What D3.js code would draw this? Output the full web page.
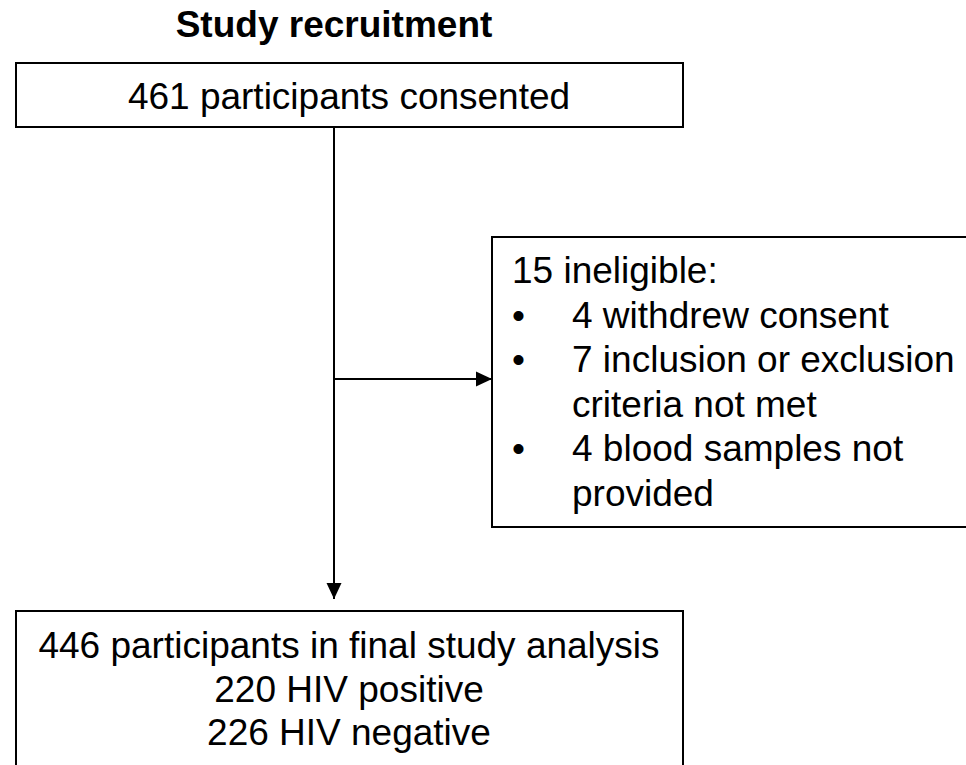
<!DOCTYPE html>
<meta charset="utf-8">
<style>
body { margin: 0; background: #fff; }
text { font-family: "Liberation Sans", Arial, sans-serif; fill: #000; }
.box { fill: none; stroke: #000; stroke-width: 2px; }
.link { stroke: #000; stroke-width: 2px; fill: none; }
</style>
<body>
<script src="https://cdn.jsdelivr.net/npm/d3@7"></script>
<script>

var width = 966;
var height = 765;

// text content of the flow chart
var title = "Study recruitment";
var consentedLines = ["461 participants consented"];
var ineligibleHead = ["15 ineligible:"];
var ineligibleItems = [
  ["4 withdrew consent"],
  ["7 inclusion or exclusion", "criteria not met"],
  ["4 blood samples not", "provided"]
];
var finalLines = ["446 participants in final study analysis", "220 HIV positive", "226 HIV negative"];

var svg = d3.select("body").append("svg")
    .attr("width", width)
    .attr("height", height);

var fontSize = 37;
var lineGap = 44.6;

svg.append("defs").append("marker")
    .attr("id", "head")
    .attr("viewBox", "0 0 16 16")
    .attr("refX", 16)
    .attr("refY", 8)
    .attr("markerWidth", 16)
    .attr("markerHeight", 16)
    .attr("markerUnits", "userSpaceOnUse")
    .attr("orient", "auto")
  .append("path")
    .attr("d", "M0,0.5L16,8L0,15.5Z")
    .attr("fill", "#000");

// title
svg.append("text")
    .attr("x", 334)
    .attr("y", 37)
    .attr("text-anchor", "middle")
    .attr("font-weight", "bold")
    .attr("font-size", fontSize)
    .text(title);

// top box
svg.append("rect").attr("class", "box")
    .attr("x", 16).attr("y", 63).attr("width", 667).attr("height", 64);
svg.append("g").selectAll("text")
    .data(consentedLines)
    .enter().append("text")
      .attr("x", 349)
      .attr("y", function(d, i) { return 109 + i * lineGap; })
      .attr("text-anchor", "middle")
      .attr("font-size", fontSize)
      .text(function(d) { return d; });

// main vertical arrow
svg.append("line").attr("class", "link")
    .attr("x1", 334).attr("y1", 127)
    .attr("x2", 334).attr("y2", 599)
    .attr("marker-end", "url(#head)");

// side arrow
svg.append("line").attr("class", "link")
    .attr("x1", 334).attr("y1", 379)
    .attr("x2", 492).attr("y2", 379)
    .attr("marker-end", "url(#head)");

// right box (runs off the right edge)
svg.append("rect").attr("class", "box")
    .attr("x", 492).attr("y", 237).attr("width", 520).attr("height", 290);

var rows = [];
ineligibleHead.forEach(function(t) { rows.push({text: t, bullet: false, indent: false}); });
ineligibleItems.forEach(function(item) {
  item.forEach(function(t, j) { rows.push({text: t, bullet: j === 0, indent: true}); });
});

var rg = svg.append("g");
rg.selectAll("text.row")
    .data(rows)
    .enter().append("text")
      .attr("class", "row")
      .attr("x", function(d) { return d.indent ? 572 : 512; })
      .attr("y", function(d, i) { return 283 + i * lineGap; })
      .attr("font-size", fontSize)
      .text(function(d) { return d.text; });
rg.selectAll("text.bullet")
    .data(rows.map(function(d, i) { return {b: d.bullet, i: i}; }).filter(function(d) { return d.b; }))
    .enter().append("text")
      .attr("class", "bullet")
      .attr("x", 512)
      .attr("y", function(d) { return 283 + d.i * lineGap; })
      .attr("font-size", fontSize)
      .text("\u2022");

// bottom box (runs off the bottom edge)
svg.append("rect").attr("class", "box")
    .attr("x", 16).attr("y", 611).attr("width", 667).attr("height", 200);
svg.append("g").selectAll("text")
    .data(finalLines)
    .enter().append("text")
      .attr("x", 349)
      .attr("y", function(d, i) { return 658 + i * 43.5; })
      .attr("text-anchor", "middle")
      .attr("font-size", fontSize)
      .text(function(d) { return d; });

</script>
</body>
